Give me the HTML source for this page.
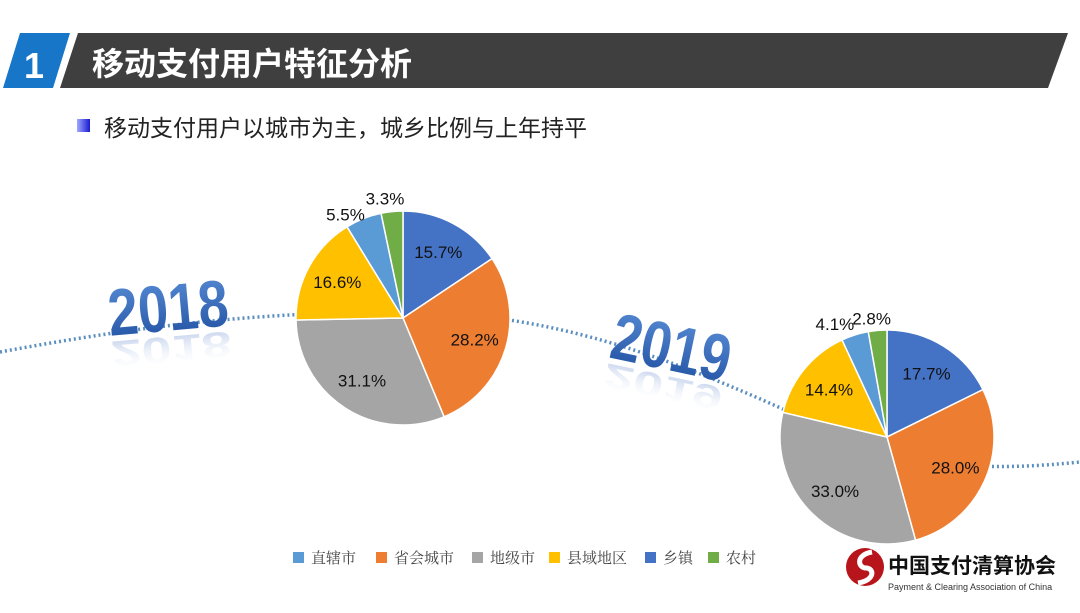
<!DOCTYPE html>
<html><head><meta charset="utf-8"><style>
body{margin:0;width:1080px;height:608px;background:#fff;overflow:hidden;font-family:"Liberation Sans","Noto Sans CJK SC",sans-serif}
</style></head><body>
<svg id="s" width="1080" height="608" xmlns="http://www.w3.org/2000/svg">
<defs>
<linearGradient id="bul" x1="0" x2="1"><stop offset="0" stop-color="#9fa8ff"/><stop offset="1" stop-color="#1a1ad0"/></linearGradient>
<linearGradient id="yr" x1="0" y1="0" x2="0" y2="1"><stop offset="0" stop-color="#5b8fd8"/><stop offset="1" stop-color="#1f4fa0"/></linearGradient>
<linearGradient id="ref" x1="0" y1="0" x2="0" y2="1"><stop offset="0" stop-color="#fff" stop-opacity="0"/><stop offset="1" stop-color="#6d8fcf" stop-opacity="0.5"/></linearGradient>
</defs>
<polygon points="20,33 70,33 53,88 3,88" fill="#1776c8"/>
<text x="24" y="78" font-size="36" font-weight="bold" fill="#fff">1</text>
<polygon points="78,33 1068,33 1048,88 60,88" fill="#3f3f3f"/>
<text x="92" y="75" font-size="32" font-weight="bold" fill="#fff">移动支付用户特征分析</text>
<rect x="77" y="119" width="13" height="13" fill="url(#bul)"/>
<text x="104" y="136" font-size="23" fill="#222">移动支付用户以城市为主，城乡比例与上年持平</text>
<path d="M0,352 C120,330 240,312 400,312 C560,312 680,360 850,440 C930,470 1000,470 1080,462" fill="none" stroke="#5b8fc0" stroke-width="3.5" stroke-dasharray="2,3"/>
<g transform="rotate(-5 175 310)">
<text x="0" y="0" font-size="66" font-weight="bold" fill="url(#yr)" transform="translate(108,330) scale(0.82,1)">2018</text>
<text x="0" y="0" font-size="66" font-weight="bold" fill="url(#ref)" transform="translate(108,336) scale(0.82,-0.55)">2018</text>
</g>
<g transform="rotate(12 680 345)">
<text x="0" y="0" font-size="66" font-weight="bold" fill="url(#yr)" transform="translate(612,372) scale(0.82,1)">2019</text>
<text x="0" y="0" font-size="66" font-weight="bold" fill="url(#ref)" transform="translate(612,378) scale(0.82,-0.5)">2019</text>
</g>
<g id="pies"></g>
<g font-size="15" fill="#444" font-family="Liberation Serif,Noto Serif CJK SC,serif">
<rect x="293" y="552" width="11" height="11" fill="#5B9BD5"/><text x="311" y="563">直辖市</text>
<rect x="376" y="552" width="11" height="11" fill="#ED7D31"/><text x="394" y="563">省会城市</text>
<rect x="472" y="552" width="11" height="11" fill="#A5A5A5"/><text x="490" y="563">地级市</text>
<rect x="549" y="552" width="11" height="11" fill="#FFC000"/><text x="567" y="563">县域地区</text>
<rect x="645" y="552" width="11" height="11" fill="#4472C4"/><text x="663" y="563">乡镇</text>
<rect x="708" y="552" width="11" height="11" fill="#70AD47"/><text x="726" y="563">农村</text>
</g>
<g>
<circle cx="865" cy="567" r="19" fill="#b8141b"/><path d="M872,552 C855,555 858,568 866,568 C874,568 876,580 858,583" stroke="#fff" stroke-width="5" fill="none"/>
<text x="888" y="573" font-size="21" font-weight="bold" fill="#111">中国支付清算协会</text>
<text x="888" y="590" font-size="9" fill="#333">Payment &amp; Clearing Association of China</text>
</g>
</svg>
<script>
const categories=["乡镇","省会城市","地级市","县域地区","直辖市","农村"];
const colors=["#4472C4","#ED7D31","#A5A5A5","#FFC000","#5B9BD5","#70AD47"];
const values2018=[15.7,28.2,31.1,16.6,5.5,3.3];
const values2019=[17.7,28.0,33.0,14.4,4.1,2.8];
const NS="http://www.w3.org/2000/svg";
const g=document.getElementById('pies');
function pie(vals,cx,cy,r,year,outside){
  const tot=vals.reduce((a,b)=>a+b,0);let a0=0;
  vals.forEach((v,i)=>{
    const a1=a0+v/tot*2*Math.PI;
    const x0=cx+r*Math.sin(a0),y0=cy-r*Math.cos(a0),x1=cx+r*Math.sin(a1),y1=cy-r*Math.cos(a1);
    const p=document.createElementNS(NS,'path');
    p.setAttribute('d',`M${cx},${cy}L${x0},${y0}A${r},${r} 0 ${a1-a0>Math.PI?1:0} 1 ${x1},${y1}Z`);
    p.setAttribute('fill',colors[i]);p.setAttribute('stroke','#fff');p.setAttribute('stroke-width','1.5');
    
    
    g.appendChild(p);
    const am=(a0+a1)/2;let lx,ly;
    if(v<8){const o=outside[i];lx=cx+r*Math.sin(am)+o[0];ly=cy-r*Math.cos(am)+o[1];}
    else{lx=cx+0.7*r*Math.sin(am);ly=cy-0.7*r*Math.cos(am);}
    const t=document.createElementNS(NS,'text');
    t.setAttribute('x',lx);t.setAttribute('y',ly+6);t.setAttribute('text-anchor','middle');
    t.setAttribute('font-size','17');t.setAttribute('fill','#111');
    t.textContent=v.toFixed(1)+'%';
    
    
    g.appendChild(t);
    a0=a1;
  });
}
pie(values2018,403,318,107,'2018',{4:[-18,-4],5:[-7,-13]});
pie(values2019,887,437,107,'2019',{4:[-20,-11],5:[-6,-12]});
</script>
</body></html>
